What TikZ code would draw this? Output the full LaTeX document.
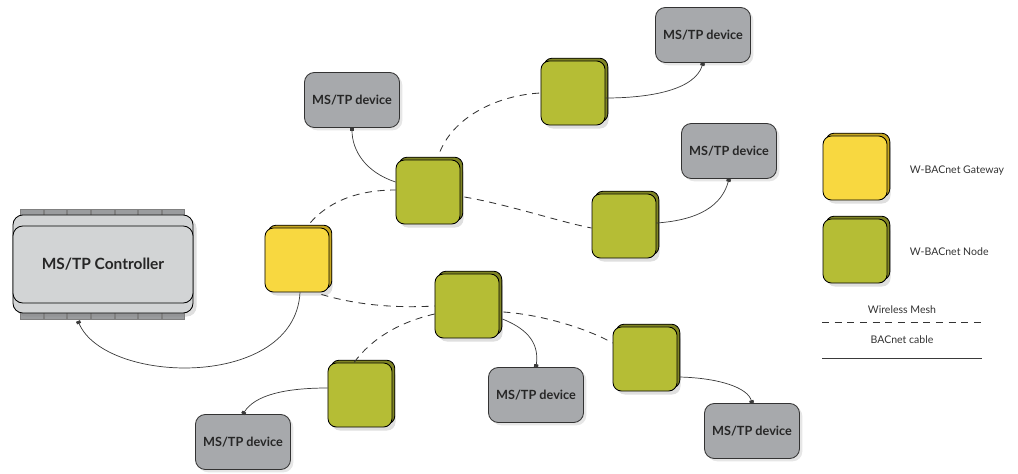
\documentclass[tikz,border=0pt]{standalone}
\usepackage{fontspec}
\setmainfont{Lato}
\usetikzlibrary{shadows,arrows.meta}
\definecolor{nodegreen}{HTML}{B5BD35}
\definecolor{nodegreenback}{HTML}{7F8424}
\definecolor{gwyellow}{HTML}{F8D840}
\definecolor{gwyellowback}{HTML}{C6A620}
\definecolor{devgray}{HTML}{A7A9AC}
\definecolor{ctrlgray}{HTML}{D2D4D5}
\definecolor{tabgray}{HTML}{9A9C9E}
\definecolor{cablegray}{HTML}{3A3A3A}

\begin{document}
\begin{tikzpicture}[x=0.025cm,y=-0.025cm,
    unit/.style={draw=black,line width=0.6pt,rounded corners=6pt,minimum width=1.6cm,minimum height=1.6cm,inner sep=0pt,
      drop shadow={opacity=0.25,shadow xshift=2.5pt,shadow yshift=-2.5pt},
      copy shadow={draw=black,line width=0.6pt,shadow xshift=2pt,shadow yshift=2pt,fill=#1back}},
    gateway/.style={unit=gwyellow,fill=gwyellow},
    wnode/.style={unit=nodegreen,fill=nodegreen},
    device/.style={draw=black!80,line width=0.6pt,fill=devgray,rounded corners=7pt,minimum width=2.375cm,minimum height=1.375cm,
      font=\fontsize{9}{11}\selectfont\bfseries,text=black!85,
      drop shadow={opacity=0.2,shadow xshift=2pt,shadow yshift=-2pt}},
    cable/.style={draw=cablegray,line width=0.5pt,-{Square[length=2pt,width=3pt]}},
    mesh/.style={draw=black!80,line width=0.6pt,dash pattern=on 5pt off 4pt},
    legendtext/.style={font=\fontsize{7.5}{9}\selectfont,text=black!80}]
  \useasboundingbox (0,0) rectangle (1018,473);

  % controller
  \foreach \i in {0,...,6}{
    \draw[fill=tabgray,draw=black!50,line width=0.3pt] (20.5+\i*23.6,209) rectangle (43+\i*23.6,216);
    \draw[fill=tabgray,draw=black!50,line width=0.3pt] (20.5+\i*23.6,312) rectangle (43+\i*23.6,319);
  }
  \node[draw=black,line width=0.6pt,fill=ctrlgray,rounded corners=7pt,minimum width=4.5cm,minimum height=2.45cm,
    drop shadow={opacity=0.25,shadow xshift=2.5pt,shadow yshift=-2.5pt}] (ctrlbody) at (103,264) {};
  \node[draw=black,line width=0.6pt,fill=ctrlgray,rounded corners=7pt,minimum width=4.5cm,minimum height=1.925cm,
    font=\fontsize{11}{13}\selectfont\bfseries,text=black!85] (ctrl) at (103,264.5) {MS/TP Controller};
  \coordinate (ctrlport) at (78,321);

  % wireless units
  \node[gateway] (gw) at (297,260) {};
  \node[wnode] (n1) at (428,192) {};
  \node[wnode] (n2) at (467,306) {};
  \node[wnode] (n3) at (573,93) {};
  \node[wnode] (n4) at (624,226) {};
  \node[wnode] (n5) at (360,395) {};
  \node[wnode] (n6) at (645,359) {};

  % devices
  \node[device] (d1) at (352,100) {MS/TP device};
  \node[device] (d2) at (703,35) {MS/TP device};
  \node[device] (d3) at (729,151) {MS/TP device};
  \node[device] (d4) at (536,395) {MS/TP device};
  \node[device] (d5) at (243,442) {MS/TP device};
  \node[device] (d6) at (752,431) {MS/TP device};

  % wireless mesh
  \draw[mesh] (gw.north east) ++(-19,-5) .. controls (335,195) and (370,190) .. (n1.west |- 0,190);
  \draw[mesh] (gw.south east) ++(-8,2) .. controls (360,306) and (400,308) .. (n2.west |- 0,306);
  \draw[mesh] (n2.west |- 0,314) .. controls (400,322) and (372,338) .. (354,0 |- n5.north);
  \draw[mesh] (n1.north) ++(12,-8) .. controls (455,115) and (500,95) .. (n3.west);
  \draw[mesh] (n1.east |- 0,197) ++(4,0) .. controls (510,205) and (560,222) .. (n4.west |- 0,228);
  \draw[mesh] (n2.east |- 0,312) ++(4,0) .. controls (545,315) and (590,330) .. (n6.west |- 0,343);

  % BACnet cables
  \draw[cable] (gw.south) ++(3,0) .. controls (295,390) and (105,385) .. (ctrlport);
  \draw[cable] (n1.west |- 0,182) .. controls (365,172) and (352,150) .. (d1.south);
  \draw[cable] (n3.east |- 0,98) .. controls (650,98) and (695,90) .. (d2.south);
  \draw[cable] (n4.east |- 0,223) .. controls (700,220) and (722,205) .. (d3.south);
  \draw[cable] (n2.east |- 0,319) ++(3,0) .. controls (530,330) and (539,345) .. (d4.north);
  \draw[cable] (n5.west |- 0,388) .. controls (285,388) and (255,395) .. (d5.north);
  \draw[cable] (n6.east |- 0,377) ++(2,0) .. controls (720,378) and (748,388) .. (d6.north);

  % legend
  \node[gateway] (keygw) at (855,168) {};
  \node[legendtext,anchor=west] (keygwtext) at (905,171) {W-BACnet Gateway};
  \node[wnode] (keynode) at (855,251) {};
  \node[legendtext,anchor=west] (keynodetext) at (905,252) {W-BACnet Node};
  \node[legendtext] (keymesh) at (902,310) {Wireless Mesh};
  \coordinate (meshA) at (822,322);
  \coordinate (meshB) at (982,322);
  \draw[mesh] (meshA) -- (meshB);
  \node[legendtext] (keycable) at (902,340) {BACnet cable};
  \coordinate (cableA) at (822,358);
  \coordinate (cableB) at (982,358);
  \draw[draw=cablegray,line width=0.5pt] (cableA) -- (cableB);
\end{tikzpicture}
\end{document}
